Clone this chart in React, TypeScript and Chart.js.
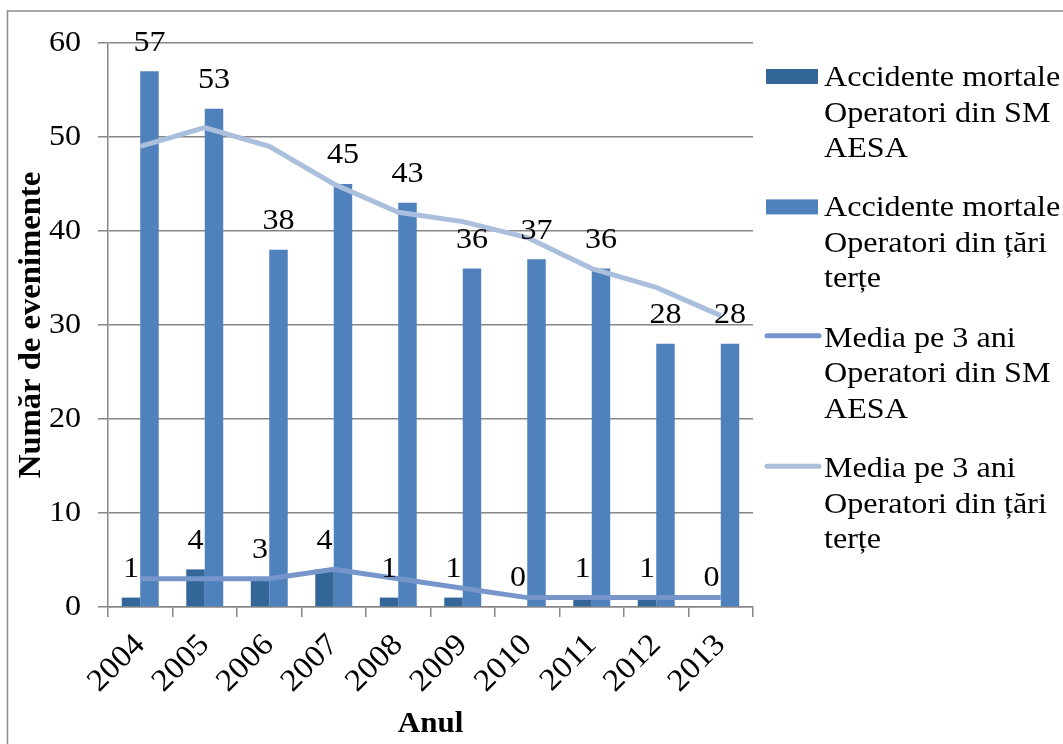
import React, { useEffect, useRef } from 'react';
import { Chart, registerables } from 'chart.js';

Chart.register(...registerables);

const years = ['2004', '2005', '2006', '2007', '2008', '2009', '2010', '2011', '2012', '2013'];
const fatalEasa = [1, 4, 3, 4, 1, 1, 0, 1, 1, 0];
const fatalThird = [57, 53, 38, 45, 43, 36, 37, 36, 28, 28];
const avgEasa = [3, 3, 3, 4, 3, 2, 1, 1, 1, 1];
const avgThird = [49, 51, 49, 45, 42, 41, 39.3, 36, 34, 31];
const yTicks = [0, 10, 20, 30, 40, 50, 60];
const legendLabels = [
  ['Accidente mortale', 'Operatori din SM', 'AESA'],
  ['Accidente mortale', 'Operatori din țări', 'terțe'],
  ['Media pe 3 ani', 'Operatori din SM', 'AESA'],
  ['Media pe 3 ani', 'Operatori din țări', 'terțe'],
];
const xTitle = 'Anul';
const yTitle = 'Număr de evenimente';

const FONT = '"Liberation Serif", "Times New Roman", serif';
const GRID = '#878787';
const COLORS = ['#336699', '#4F81BD', '#7696CB', '#AABFDC'];
const TEXT_STRETCH = 1.07;

// The reference text is slightly wide; draw every text run a little stretched along its line.
const stretchText = {
  id: 'stretchText',
  beforeDraw(chart: any) {
    const ctx = chart.ctx;
    if (ctx.__stretched) return;
    const orig = ctx.fillText.bind(ctx);
    ctx.fillText = (text: string, x: number, y: number) => {
      ctx.save();
      ctx.translate(x, y);
      ctx.scale(TEXT_STRETCH, 1);
      orig(text, 0, 0);
      ctx.restore();
    };
    ctx.__stretched = true;
  },
};

const frame = {
  id: 'frame',
  beforeDraw(chart: any) {
    const ctx = chart.ctx;
    ctx.save();
    ctx.fillStyle = '#fff';
    ctx.fillRect(0, 0, chart.width, chart.height);
    ctx.strokeStyle = '#8c8c8c';
    ctx.lineWidth = 1.5;
    ctx.beginPath();
    ctx.moveTo(7.5, chart.height + 2);
    ctx.lineTo(7.5, 11);
    ctx.lineTo(chart.width + 2, 11);
    ctx.stroke();
    ctx.restore();
  },
};

const dataLabels = {
  id: 'dataLabels',
  afterDatasetsDraw(chart: any) {
    const ctx = chart.ctx;
    ctx.save();
    ctx.font = `30px ${FONT}`;
    ctx.fillStyle = '#000';
    ctx.textAlign = 'center';
    ctx.textBaseline = 'middle';
    chart.data.datasets.forEach((ds: any, i: number) => {
      if (ds.type !== 'bar') return;
      const meta = chart.getDatasetMeta(i);
      meta.data.forEach((el: any, j: number) => {
        ctx.fillText(String(ds.data[j]), el.x, el.y - 28.5);
      });
    });
    ctx.restore();
  },
};

const sideLegend = {
  id: 'sideLegend',
  afterDraw(chart: any) {
    const ctx = chart.ctx;
    const right = chart.chartArea.right;
    ctx.save();
    ctx.font = `30px ${FONT}`;
    ctx.textAlign = 'left';
    ctx.textBaseline = 'alphabetic';
    legendLabels.forEach((lines, i) => {
      const base = 86 + i * 130.4;
      const ds = chart.data.datasets[i];
      if (ds.type === 'bar') {
        ctx.fillStyle = ds.backgroundColor;
        ctx.fillRect(right + 13, base - 17, 52, 15);
      } else {
        ctx.strokeStyle = ds.borderColor;
        ctx.lineWidth = 5;
        ctx.lineCap = 'round';
        ctx.beginPath();
        ctx.moveTo(right + 14, base - 11);
        ctx.lineTo(right + 66, base - 11);
        ctx.stroke();
      }
      ctx.fillStyle = '#000';
      lines.forEach((t, k) => ctx.fillText(t, right + 71, base + k * 35.5));
    });
    ctx.restore();
  },
};

export default function App() {
  const ref = useRef<HTMLCanvasElement | null>(null);

  useEffect(() => {
    if (!ref.current) return;
    const chart = new Chart(ref.current, {
      type: 'bar',
      data: {
        labels: years,
        datasets: [
          {
            type: 'bar',
            label: legendLabels[0].join(' '),
            data: fatalEasa,
            backgroundColor: COLORS[0],
            categoryPercentage: 0.573,
            barPercentage: 1,
            order: 1,
          },
          {
            type: 'bar',
            label: legendLabels[1].join(' '),
            data: fatalThird,
            backgroundColor: COLORS[1],
            categoryPercentage: 0.573,
            barPercentage: 1,
            order: 1,
          },
          {
            type: 'line',
            label: legendLabels[2].join(' '),
            data: avgEasa,
            borderColor: COLORS[2],
            backgroundColor: COLORS[2],
            borderWidth: 5,
            pointRadius: 0,
            tension: 0,
            order: 0,
          },
          {
            type: 'line',
            label: legendLabels[3].join(' '),
            data: avgThird,
            borderColor: COLORS[3],
            backgroundColor: COLORS[3],
            borderWidth: 5,
            pointRadius: 0,
            tension: 0,
            order: 0,
          },
        ] as any,
      },
      options: {
        responsive: false,
        animation: false,
        layout: { padding: { left: 0, right: 310, top: 43, bottom: 0 } },
        plugins: { legend: { display: false }, tooltip: { enabled: false } },
        scales: {
          x: {
            offset: true,
            grid: {
              offset: true,
              drawOnChartArea: false,
              drawTicks: true,
              tickLength: 10,
              color: GRID,
              lineWidth: 1.5,
            },
            border: { color: GRID, width: 1.5 },
            ticks: {
              color: '#000',
              font: { family: FONT, size: 31 },
              minRotation: 45,
              maxRotation: 45,
              autoSkip: false,
              padding: 10,
            },
            title: {
              display: true,
              text: xTitle,
              color: '#000',
              font: { family: FONT, size: 29, weight: 'bold' },
              padding: { top: 0, bottom: 2 },
            },
            afterFit: (s: any) => {
              s.height = 137;
            },
          },
          y: {
            min: 0,
            max: 60,
            afterBuildTicks: (s: any) => {
              s.ticks = yTicks.map((v) => ({ value: v }));
            },
            grid: { color: GRID, lineWidth: 1.5, tickLength: 10 },
            border: { color: GRID, width: 1.5 },
            ticks: {
              color: '#000',
              font: { family: FONT, size: 30 },
              padding: 17,
            },
            title: {
              display: true,
              text: yTitle,
              color: '#000',
              font: { family: FONT, size: 30.5, weight: 'bold' },
              padding: { top: 14, bottom: 0 },
            },
            afterFit: (s: any) => {
              s.width = 108;
            },
          },
        },
      } as any,
      plugins: [stretchText, frame, dataLabels, sideLegend],
    });
    return () => chart.destroy();
  }, []);

  return (
    <div style={{ position: 'absolute', left: 0, top: 0, width: 1063, height: 744 }}>
      <canvas ref={ref} width={1063} height={744} style={{ display: 'block' }} />
    </div>
  );
}
